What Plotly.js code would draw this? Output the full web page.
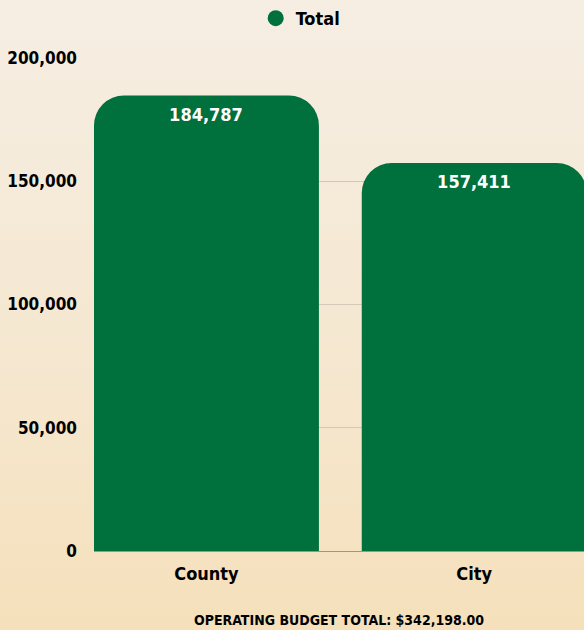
<!DOCTYPE html>
<html>
<head>
<meta charset="utf-8">
<script src="https://cdn.plot.ly/plotly-3.0.1.min.js"></script>
<style>
html, body { margin:0; padding:0; }
body { width:584px; height:630px; background: linear-gradient(to bottom, #f6eee3 0%, #f5e7cf 60%, #f5e0bb 100%); }
#chart { width:584px; height:630px; }
#chart svg text { font-stretch: condensed !important; }
</style>
</head>
<body>
<div id="chart"></div>
<script>
const categories = ['County', 'City'];
const totals = [184787, 157411];
const yTickValues = [0, 50000, 100000, 150000, 200000];
const yTickLabels = ['0', '50,000', '100,000', '150,000', '200,000'];
const seriesName = 'Total';
const xTitle = 'OPERATING BUDGET TOTAL: $342,198.00';

const FONT = '"DejaVu Sans", sans-serif';
const GREEN = '#00703c';

const fmt = v => v.toLocaleString('en-US');

const data = [
  {
    type: 'bar',
    x: categories,
    y: totals,
    width: 0.84,
    marker: { color: GREEN, cornerradius: 30 },
    showlegend: false,
    hoverinfo: 'skip'
  },
  {
    type: 'scatter',
    mode: 'markers',
    x: [null],
    y: [null],
    name: seriesName,
    marker: { color: GREEN, size: 20, symbol: 'circle' },
    showlegend: true
  }
];

const annotations = categories.map((c, i) => ({
  x: c,
  y: totals[i],
  xref: 'x',
  yref: 'y',
  text: fmt(totals[i]),
  showarrow: false,
  yanchor: 'top',
  xanchor: 'center',
  yshift: -6,
  font: { family: FONT, size: 18, color: '#ffffff', weight: 'bold' }
}));

const layout = {
  width: 584,
  height: 630,
  paper_bgcolor: 'rgba(0,0,0,0)',
  plot_bgcolor: 'rgba(0,0,0,0)',
  margin: { l: 94, r: 0, t: 58, b: 79 },
  font: { family: FONT, color: '#000000', weight: 'bold' },
  showlegend: true,
  annotations: annotations,
  legend: {
    orientation: 'h',
    x: 0.33, xanchor: 'left',
    y: 1.0, yref: 'container', yanchor: 'top',
    font: { family: FONT, size: 18, color: '#000', weight: 'bold' },
    bgcolor: 'rgba(0,0,0,0)',
    itemclick: false
  },
  xaxis: {
    type: 'category',
    range: [-0.42, 1.41],
    showgrid: false,
    zeroline: false,
    showline: false,
    ticks: '',
    tickfont: { family: FONT, size: 18, color: '#000', weight: 'bold' },
    ticklabelstandoff: 10,
    title: { text: xTitle, font: { family: FONT, size: 14, color: '#000', weight: 'bold' }, standoff: 32 },
    fixedrange: true
  },
  yaxis: {
    range: [0, 200000],
    tickvals: yTickValues,
    ticktext: yTickLabels,
    showgrid: true,
    gridcolor: '#d3c9b8',
    gridwidth: 1,
    zeroline: true,
    zerolinecolor: '#9e9585',
    zerolinewidth: 1,
    showline: false,
    ticks: '',
    ticklabelstandoff: 16,
    tickfont: { family: FONT, size: 17, color: '#000', weight: 'bold' },
    fixedrange: true
  }
};

Plotly.newPlot('chart', data, layout, { displayModeBar: false, staticPlot: true });
</script>
</body>
</html>
